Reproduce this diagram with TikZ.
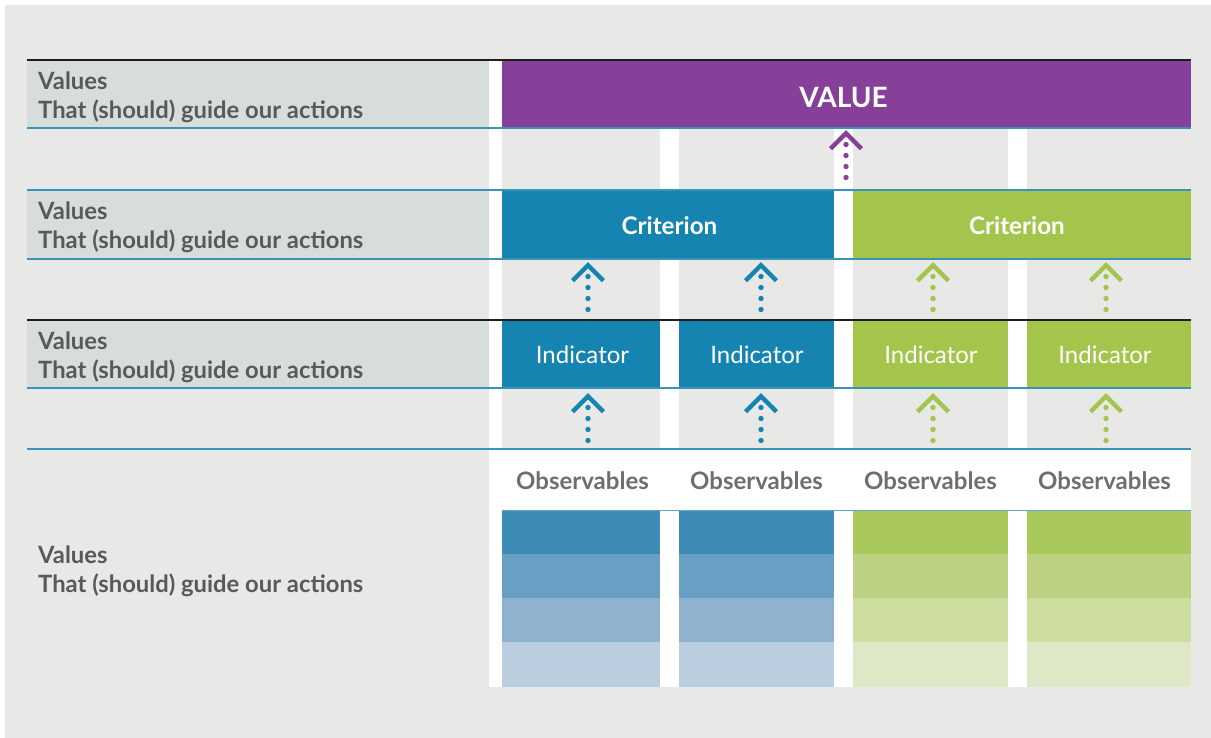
\documentclass[tikz,border=0pt]{standalone}
\usepackage{fontspec}
\setmainfont{Lato}
\usetikzlibrary{calc}

\definecolor{bggray}{HTML}{E8E8E6}
\definecolor{labfill}{HTML}{D7DDDD}
\definecolor{labtext}{HTML}{58595B}
\definecolor{obstext}{HTML}{6D6E70}
\definecolor{valpurple}{HTML}{87409A}
\definecolor{critblue}{HTML}{1584B0}
\definecolor{critgreen}{HTML}{A3C54B}
\definecolor{ruleblue}{HTML}{3A93B8}
\definecolor{ruleblack}{HTML}{1E1E1E}
\definecolor{bA}{HTML}{3D8CB5}
\definecolor{bB}{HTML}{689FC3}
\definecolor{bC}{HTML}{8FB3CF}
\definecolor{bD}{HTML}{BACEDF}
\definecolor{gA}{HTML}{A9C85C}
\definecolor{gB}{HTML}{BCD282}
\definecolor{gC}{HTML}{CEDDA0}
\definecolor{gD}{HTML}{DFE8C6}

% rectangular cell given by its corners: [options]{name}{x1}{y1}{x2}{y2}{fill}
\newcommand{\cellnode}[7][]{%
  \node[blk, fill=#7, minimum width={(#5-#3)*1pt}, minimum height={(#6-#4)*1pt}, #1] (#2) at (#3,#4) {};}

% upward chevron with a dotted stem, hanging from its tip coordinate
\newcommand{\uptick}[2]{%
  \draw[#2, line width=4.5pt, line join=miter, line cap=butt]
    ($(#1)+(-15.5,18.7)$) -- ($(#1)+(0,3.2)$) -- ($(#1)+(15.5,18.7)$);
  \foreach \d in {14.5,25.5,36.5,47.5}
    \fill[#2] ($(#1)+(0,\d)$) circle (2.7pt);}

\begin{document}
\begin{tikzpicture}[x=1pt, y=-1pt,
  blk/.style={rectangle, inner sep=0pt, outer sep=0pt, anchor=north west, draw=none},
  lab/.style={anchor=west, align=left, inner sep=0pt, text=labtext,
              font=\fontsize{23.8}{29}\selectfont\bfseries},
  boldtxt/.style={text=white, font=\fontsize{24.2}{28}\selectfont\bfseries},
  plaintxt/.style={text=white, font=\fontsize{24}{28}\selectfont},
  valtxt/.style={text=white, font=\fontsize{28}{32}\selectfont\bfseries},
  obs/.style={text=obstext, inner sep=0pt, font=\fontsize{24}{28}\selectfont\bfseries},
  rowrule/.style={line width=1.5pt},
]
\useasboundingbox (0,0) rectangle (1211,738);

% page background and the white field behind the columns
\fill[white] (0,0) rectangle (1211,738);
\fill[bggray] (5,5) rectangle (1211,738);
\fill[white] (489,60) rectangle (1191,687);

% shaded label strips
\cellnode{labA}{27}{60}{489}{128}{labfill}
\cellnode{labB}{27}{190}{489}{259}{labfill}
\cellnode{labC}{27}{320}{489}{388}{labfill}

% grey cells of the three gap rows
\foreach \ya/\yb [count=\r] in {128/190, 259/320, 388/449}{
  \foreach \xa/\xb [count=\c] in {502/660, 679/834, 853/1008, 1027/1191}{
    \cellnode{gap\r\c}{\xa}{\ya}{\xb}{\yb}{bggray}
  }
}

% value, criteria and indicators
\cellnode[label={[valtxt, xshift=-3pt, yshift=-3pt]center:VALUE}]{value}{502}{60}{1191}{128}{valpurple}
\cellnode[label={[boldtxt, xshift=1.5pt, yshift=-1pt]center:Criterion}]{critA}{502}{190}{834}{259}{critblue}
\cellnode[label={[boldtxt, xshift=-5pt, yshift=-1pt]center:Criterion}]{critB}{853}{190}{1191}{259}{critgreen}
\cellnode[label={[plaintxt, xshift=1.5pt, yshift=-1pt]center:Indicator}]{indA}{502}{320}{660}{388}{critblue}
\cellnode[label={[plaintxt, xshift=0.5pt, yshift=-1pt]center:Indicator}]{indB}{679}{320}{834}{388}{critblue}
\cellnode[label={[plaintxt, xshift=0.5pt, yshift=-1pt]center:Indicator}]{indC}{853}{320}{1008}{388}{critgreen}
\cellnode[label={[plaintxt, xshift=-4pt, yshift=-1pt]center:Indicator}]{indD}{1027}{320}{1191}{388}{critgreen}

% observables: headings and graded bands
\node[obs] (obsA) at (582.5,481) {Observables};
\node[obs] (obsB) at (756.5,481) {Observables};
\node[obs] (obsC) at (930.5,481) {Observables};
\node[obs] (obsD) at (1104.5,481) {Observables};
\foreach \ya/\yb/\cb/\cg [count=\k] in {510/554/bA/gA, 554/598/bB/gB, 598/642/bC/gC, 642/687/bD/gD}{
  \cellnode{bandA\k}{502}{\ya}{660}{\yb}{\cb}
  \cellnode{bandB\k}{679}{\ya}{834}{\yb}{\cb}
  \cellnode{bandC\k}{853}{\ya}{1008}{\yb}{\cg}
  \cellnode{bandD\k}{1027}{\ya}{1191}{\yb}{\cg}
}

% row rules
\draw[rowrule, ruleblack] (27,60) -- (1191,60);
\draw[rowrule, ruleblue] (27,128) -- (1191,128);
\draw[rowrule, ruleblue] (27,190) -- (1191,190);
\draw[rowrule, ruleblue] (27,259) -- (1191,259);
\draw[rowrule, ruleblack] (27,320) -- (1191,320);
\draw[rowrule, ruleblue] (27,388) -- (1191,388);
\draw[rowrule, ruleblue] (27,449) -- (1191,449);
\draw[line width=1pt, ruleblue!80] (502,510.5) -- (1191,510.5);

% row labels
\node[lab] (textA) at (38,97.5) {Values\\That (should) guide our actions};
\node[lab] (textB) at (38,227.5) {Values\\That (should) guide our actions};
\node[lab] (textC) at (38,357.5) {Values\\That (should) guide our actions};
\node[lab] (textD) at (38,571.5) {Values\\That (should) guide our actions};

% arrow tips, placed just under the box each arrow points at
\coordinate (tipV) at ($(value.south west)+(344,2)$);
\coordinate (tipA) at ($(critA.south west)+(86,3)$);
\coordinate (tipB) at ($(critA.south west)+(259,3)$);
\coordinate (tipC) at ($(critB.south west)+(80,3)$);
\coordinate (tipD) at ($(critB.south west)+(253,3)$);
\coordinate (tipE) at ($(indA.south west)+(86,5)$);
\coordinate (tipF) at ($(indB.south west)+(82,5)$);
\coordinate (tipG) at ($(indC.south west)+(80,5)$);
\coordinate (tipH) at ($(indD.south west)+(79,5)$);

\uptick{tipV}{valpurple}
\uptick{tipA}{critblue}
\uptick{tipB}{critblue}
\uptick{tipC}{critgreen}
\uptick{tipD}{critgreen}
\uptick{tipE}{critblue}
\uptick{tipF}{critblue}
\uptick{tipG}{critgreen}
\uptick{tipH}{critgreen}
\end{tikzpicture}
\end{document}
